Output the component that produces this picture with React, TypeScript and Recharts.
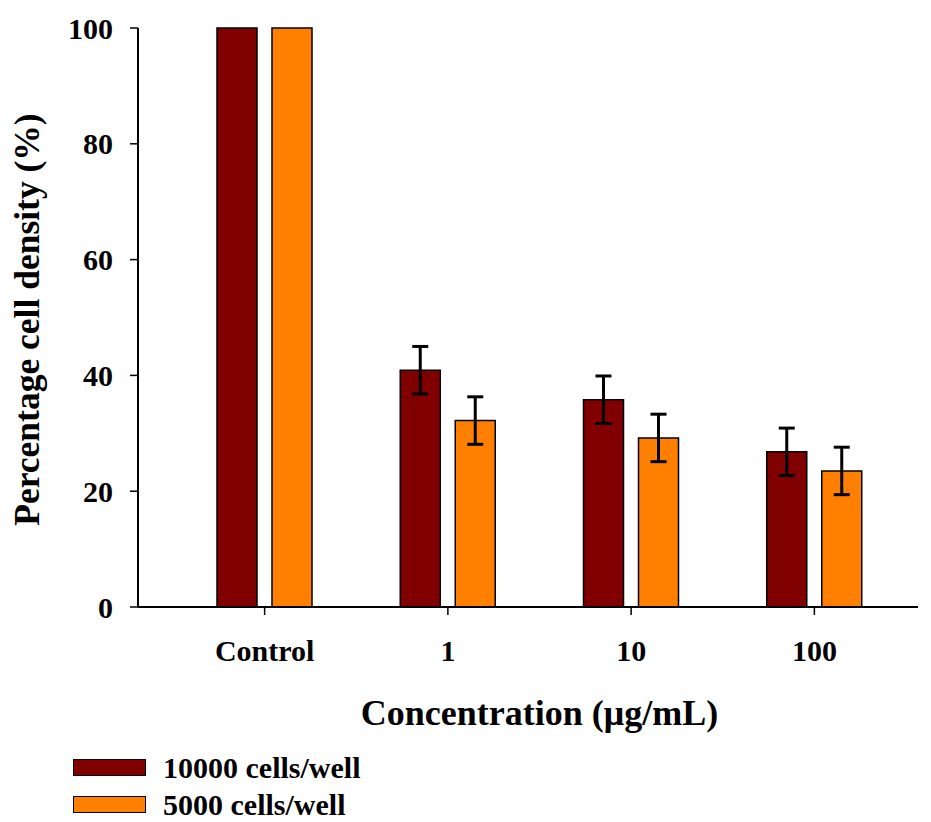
import React from 'react';
import { BarChart, Bar, XAxis, YAxis, ErrorBar, Legend } from 'recharts';

const categories = ['Control', '1', '10', '100'];
const cells10000 = [100, 40.9, 35.8, 26.8];
const cells5000 = [100, 32.2, 29.2, 23.5];
const err10000 = [null, 4.1, 4.1, 4.1];
const err5000 = [null, 4.1, 4.1, 4.1];
const yTicks = [0, 20, 40, 60, 80, 100];
const seriesNames = ['10000 cells/well', '5000 cells/well'];

const colors = ['#800000', '#FF8000'];
const font = '"Liberation Serif", "Times New Roman", serif';

const data = categories.map((name, i) => ({
  name,
  a: cells10000[i],
  b: cells5000[i],
  aErr: err10000[i],
  bErr: err5000[i],
}));

// legend drawn as two rows: swatch + bold label
const renderLegend = (props: any) => (
  <div style={{ fontFamily: font, fontWeight: 'bold', fontSize: 30, color: '#000', paddingTop: 7 }}>
    {(props.payload || []).map((entry: any) => (
      <div key={entry.value} style={{ display: 'flex', alignItems: 'center', height: 37 }}>
        <span
          style={{
            display: 'inline-block',
            width: 73,
            height: 17,
            background: entry.color,
            border: '1.5px solid #000',
            boxSizing: 'border-box',
            marginLeft: 73,
            marginRight: 17,
          }}
        />
        <span>{entry.value}</span>
      </div>
    ))}
  </div>
);

const XTitle = (props: any) => {
  const vb = props.viewBox || { x: 138, y: 607, width: 780 };
  const cx = vb.x + 35 + (vb.width - 47) / 2;
  return (
    <text x={cx} y={vb.y + 118} textAnchor="middle" fontFamily={font} fontWeight="bold" fontSize={36} fill="#000">
      Concentration (μg/mL)
    </text>
  );
};

const YTitle = (props: any) => {
  const vb = props.viewBox || { x: 0, y: 28, height: 579 };
  const cx = vb.x + 39;
  const cy = vb.y + vb.height / 2 + 2;
  return (
    <text
      x={cx}
      y={cy}
      transform={`rotate(-90 ${cx} ${cy})`}
      textAnchor="middle"
      fontFamily={font}
      fontWeight="bold"
      fontSize={35.5}
      fill="#000"
    >
      Percentage cell density (%)
    </text>
  );
};

export default function App() {
  return (
    <div style={{ position: 'absolute', left: 0, top: 0, background: '#fff' }}>
      <BarChart
        width={931}
        height={822}
        data={data}
        margin={{ top: 28, right: 13, bottom: 0, left: 0 }}
        barSize={40}
        barGap={15}
      >
        <XAxis
          dataKey="name"
          height={135}
          padding={{ left: 35, right: 12 }}
          axisLine={{ stroke: '#000', strokeWidth: 2 }}
          tickLine={{ stroke: '#000', strokeWidth: 1.5 }}
          tickSize={8}
          tickMargin={25}
          tick={{ fill: '#000', fontSize: 30, fontWeight: 'bold', fontFamily: font }}
          label={{ content: XTitle }}
        />
        <YAxis
          width={138}
          domain={[0, 100]}
          ticks={yTicks}
          interval={0}
          axisLine={{ stroke: '#000', strokeWidth: 2 }}
          tickLine={{ stroke: '#000', strokeWidth: 1.5 }}
          tickSize={8}
          tickMargin={17}
          tick={{ fill: '#000', fontSize: 30, fontWeight: 'bold', fontFamily: font }}
          label={{ content: YTitle }}
        />
        <Legend
          verticalAlign="bottom"
          align="left"
          content={renderLegend}
          wrapperStyle={{ left: 0, width: 931, height: 80 }}
        />
        <Bar dataKey="a" name={seriesNames[0]} fill={colors[0]} stroke="#000" strokeWidth={1.5} isAnimationActive={false}>
          <ErrorBar dataKey="aErr" width={8} stroke="#000" strokeWidth={3} direction="y" isAnimationActive={false} />
        </Bar>
        <Bar dataKey="b" name={seriesNames[1]} fill={colors[1]} stroke="#000" strokeWidth={1.5} isAnimationActive={false}>
          <ErrorBar dataKey="bErr" width={8} stroke="#000" strokeWidth={3} direction="y" isAnimationActive={false} />
        </Bar>
      </BarChart>
    </div>
  );
}
